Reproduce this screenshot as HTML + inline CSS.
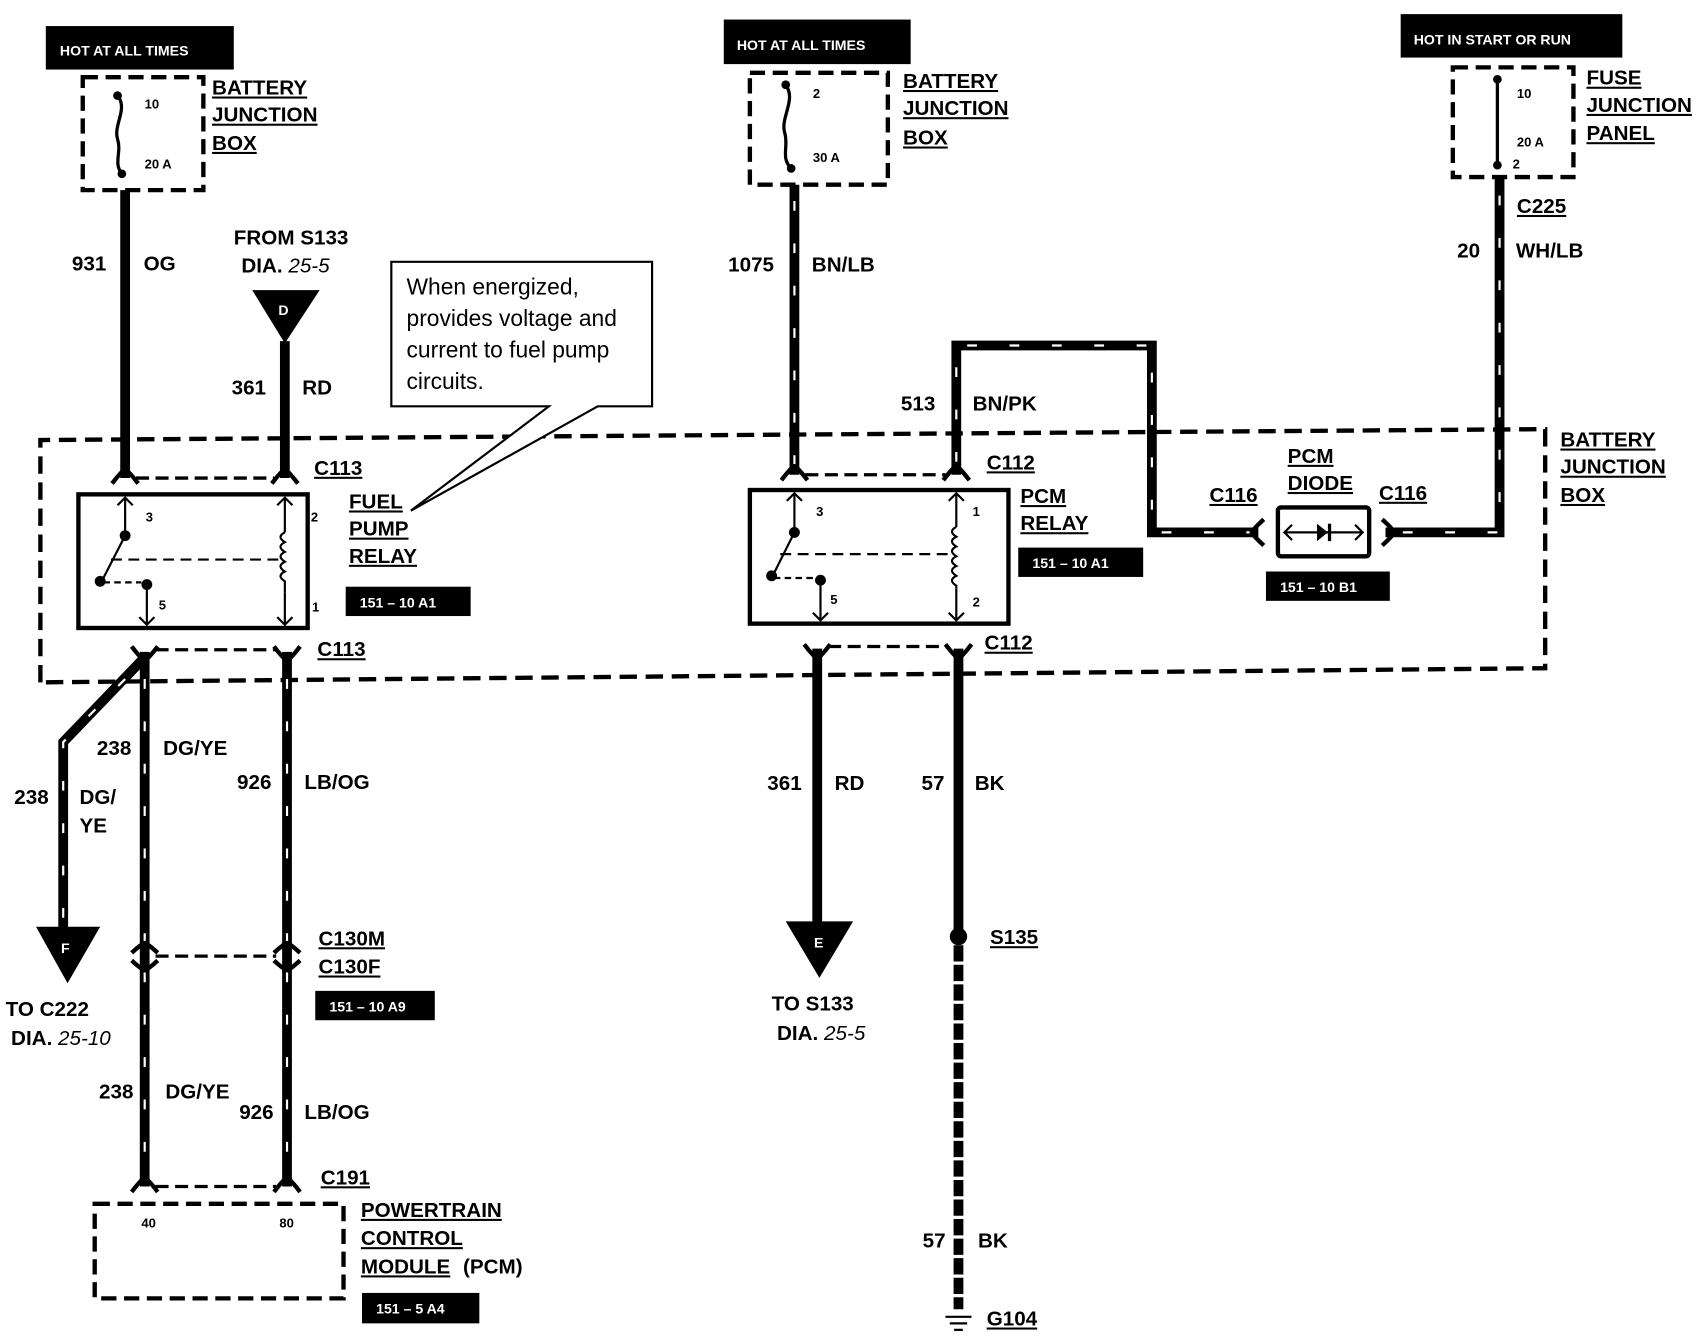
<!DOCTYPE html>
<html><head><meta charset="utf-8"><style>
html,body{margin:0;padding:0;background:#fff;}
svg{display:block;}
text{font-family:"Liberation Sans",Arial,sans-serif;fill:#000;}
.b{font-weight:bold;font-size:19px;}
.w{fill:#fff;font-size:13px;font-weight:bold;}
.s{font-size:12px;font-weight:bold;}
</style></head><body>
<svg width="1704" height="1344" viewBox="0 0 1568 1237" xmlns="http://www.w3.org/2000/svg">
<rect width="1568" height="1237" fill="#fff"/>
<g fill="none" stroke="#000">
<path d="M37,628 L37,405 L1422,395 L1422,615 L37,628" stroke-width="4" stroke-dasharray="16 8"/>
<rect x="76" y="71" width="111" height="104" stroke-width="4" stroke-dasharray="14 7"/>
<rect x="690" y="67" width="127" height="103" stroke-width="4" stroke-dasharray="14 7"/>
<rect x="1337" y="62" width="111" height="101" stroke-width="4" stroke-dasharray="14 7"/>
<rect x="87" y="1108" width="229" height="87" stroke-width="4" stroke-dasharray="14 7"/>
<path d="M108,88 C118,100 104,115 108,128 C112,140 104,150 112,160" stroke-width="3"/>
<path d="M723,78 C733,92 718,108 722,122 C726,135 718,145 728,155" stroke-width="3"/>
<path d="M1378,75 L1378,150" stroke-width="3"/>
<path d="M115,175 V440" stroke-width="9"/>
<path d="M262,314 V440" stroke-width="9"/>
<path d="M752,597 V850" stroke-width="9"/>
<path d="M882,597 V862" stroke-width="9"/>
<path d="M882,870 V1205" stroke-width="9" stroke-dasharray="15 3"/>
<g stroke-width="9" stroke-linejoin="miter">
<path d="M731,170 V437"/>
<path d="M880,437 V318 H1060 V490 H1158"/>
<path d="M1380,163 V490 H1275"/>
<path d="M133,600 V1092"/>
<path d="M264,600 V1092"/>
<path d="M133,605 L58,683 V855"/>
</g>
<g stroke="#fff" stroke-width="2" stroke-dasharray="9 30">
<path d="M731,185 V430"/>
<path d="M880,425 V318 H1060 V490 H1150"/>
<path d="M1380,180 V490 H1285"/>
<path d="M133,625 V870 M133,895 V1085"/>
<path d="M264,625 V870 M264,895 V1085"/>
<path d="M115,625 L58,683 V850"/>
</g>
<g stroke-width="4">
<path d="M103,445 Q113,432 115,432 Q117,432 127,445"/>
<path d="M250,445 Q260,432 262,432 Q264,432 274,445"/>
<path d="M719,442 Q729,429 731,429 Q733,429 743,442"/>
<path d="M868,442 Q878,429 880,429 Q882,429 892,442"/>
<path d="M121,1097 Q131,1084 133,1084 Q135,1084 145,1097"/>
<path d="M252,1097 Q262,1084 264,1084 Q266,1084 276,1097"/>
<path d="M121,877 Q131,868 133,868 Q135,868 145,877"/>
<path d="M252,877 Q262,868 264,868 Q266,868 276,877"/>
<path d="M121,595 Q131,608 133,608 Q135,608 145,595"/>
<path d="M252,595 Q262,608 264,608 Q266,608 276,595"/>
<path d="M740,593 Q750,606 752,606 Q754,606 764,593"/>
<path d="M870,593 Q880,606 882,606 Q884,606 894,593"/>
<path d="M121,884 Q131,893 133,893 Q135,893 145,884"/>
<path d="M252,884 Q262,893 264,893 Q266,893 276,884"/>
<path d="M1163,478 Q1152,488 1152,490 Q1152,492 1163,502"/>
<path d="M1272,478 Q1283,488 1283,490 Q1283,492 1272,502"/>
</g>
<g stroke-width="3" stroke-dasharray="12 6">
<path d="M125,440 H252"/><path d="M741,437 H870"/>
<path d="M143,598 H254"/><path d="M762,595 H872"/>
<path d="M143,880 H254"/><path d="M143,1092 H254"/>
</g>
<rect x="72" y="455" width="211" height="123" stroke-width="4"/>
<rect x="690" y="451" width="238" height="123" stroke-width="4"/>
<g stroke-width="2">
<path d="M115,458 V495 M108,465 L115,458 L122,465"/>
<path d="M115,493 L95,532"/>
<path d="M102,515 H258" stroke-dasharray="10 6"/>
<path d="M95,536 H130" stroke-dasharray="6 4"/>
<path d="M135,540 V575 M128,568 L135,575 L142,568"/>
<path d="M262,458 V490 M255,465 L262,458 L269,465 M262,545 V575 M255,568 L262,575 L269,568"/>
<path d="M262,490 q-8,4 0,9 q-8,4 0,9 q-8,4 0,9 q-8,4 0,9 q-8,4 0,9 V545"/>
<path d="M731,454 V490 M724,461 L731,454 L738,461"/>
<path d="M731,490 L712,528"/>
<path d="M718,510 H876" stroke-dasharray="10 6"/>
<path d="M712,532 H750" stroke-dasharray="6 4"/>
<path d="M755,536 V571 M748,564 L755,571 L762,564"/>
<path d="M880,454 V485 M873,461 L880,454 L887,461 M880,542 V571 M873,564 L880,571 L887,564"/>
<path d="M880,485 q-8,4 0,9 q-8,4 0,9 q-8,4 0,9 q-8,4 0,9 q-8,4 0,9 q-8,4 0,9 V542"/>
</g>
<rect x="1176" y="467" width="84" height="45" stroke-width="4" rx="3"/>
<path d="M1182,490 H1254 M1189,483 L1182,490 L1189,497 M1247,483 L1254,490 L1247,497" stroke-width="2"/>
<path d="M360,374 V241 H600 V374 H550 L378,470 L505,374 Z" fill="#fff" stroke-width="2"/>
<path d="M870,1212 H894 M874,1218 H890 M878,1224 H886" stroke-width="2"/>
</g>
<g fill="#000">
<circle cx="108" cy="88" r="4"/><circle cx="112" cy="160" r="4"/>
<circle cx="723" cy="78" r="4"/><circle cx="728" cy="155" r="4"/>
<circle cx="1378" cy="73" r="4"/><circle cx="1378" cy="152" r="4"/>
<circle cx="115" cy="493" r="5"/><circle cx="92" cy="535" r="5"/><circle cx="135" cy="538" r="5"/>
<circle cx="731" cy="490" r="5"/><circle cx="710" cy="530" r="5"/><circle cx="755" cy="534" r="5"/>
<circle cx="882" cy="862" r="8"/>
<polygon points="1212,482 1212,498 1222,490"/><rect x="1222" y="482" width="3" height="16"/>
<polygon points="232,267 294,267 262,316"/>
<polygon points="33,853 92,853 62,905"/>
<polygon points="723,848 785,848 754,900"/>
<rect x="42" y="24" width="173" height="40"/>
<rect x="666" y="18" width="172" height="41"/>
<rect x="1289" y="13" width="204" height="40"/>
<rect x="318" y="540" width="115" height="27"/>
<rect x="937" y="504" width="115" height="27"/>
<rect x="1165" y="526" width="114" height="27"/>
<rect x="290" y="912" width="110" height="27"/>
<rect x="333" y="1190" width="108" height="28"/>
</g>
<text class="w" x="55" y="51" font-size="14">HOT AT ALL TIMES</text>
<text class="w" x="678" y="46">HOT AT ALL TIMES</text>
<text class="w" x="1301" y="41">HOT IN START OR RUN</text>
<text class="w" x="331" y="559">151 – 10 A1</text>
<text class="w" x="950" y="523">151 – 10 A1</text>
<text class="w" x="1178" y="545">151 – 10 B1</text>
<text class="w" x="303" y="931">151 – 10 A9</text>
<text class="w" x="346" y="1209">151 – 5 A4</text>
<text class="w" x="256" y="290" font-size="16">D</text>
<text class="w" x="56" y="877" font-size="16">F</text>
<text class="w" x="749" y="872" font-size="16">E</text>
<g class="s"><text class="s" x="133" y="100">10</text><text class="s" x="133" y="155">20 A</text>
<text class="s" x="748" y="90">2</text><text class="s" x="748" y="149">30 A</text>
<text class="s" x="1396" y="90">10</text><text class="s" x="1396" y="135">20 A</text><text class="s" x="1392" y="155">2</text>
<text class="s" x="134" y="480">3</text><text class="s" x="286" y="480">2</text><text class="s" x="146" y="561">5</text><text class="s" x="287" y="563">1</text>
<text class="s" x="751" y="475">3</text><text class="s" x="895" y="475">1</text><text class="s" x="764" y="556">5</text><text class="s" x="895" y="558">2</text>
<text class="s" x="130" y="1130">40</text><text class="s" x="257" y="1130">80</text></g>
<g class="b" text-decoration="underline">
<text class="b" x="195" y="87">BATTERY</text><text class="b" x="195" y="112">JUNCTION</text><text class="b" x="195" y="138">BOX</text>
<text class="b" x="831" y="81">BATTERY</text><text class="b" x="831" y="106">JUNCTION</text><text class="b" x="831" y="133">BOX</text>
<text class="b" x="1460" y="78">FUSE</text><text class="b" x="1460" y="103">JUNCTION</text><text class="b" x="1460" y="129">PANEL</text>
<text class="b" x="1436" y="411">BATTERY</text><text class="b" x="1436" y="436">JUNCTION</text><text class="b" x="1436" y="462">BOX</text>
<text class="b" x="321" y="468">FUEL</text><text class="b" x="321" y="493">PUMP</text><text class="b" x="321" y="518">RELAY</text>
<text class="b" x="939" y="463">PCM</text><text class="b" x="939" y="488">RELAY</text>
<text class="b" x="1185" y="426">PCM</text><text class="b" x="1185" y="451">DIODE</text>
<text class="b" x="289" y="437">C113</text><text class="b" x="292" y="604">C113</text>
<text class="b" x="908" y="432">C112</text><text class="b" x="906" y="598">C112</text>
<text class="b" x="1113" y="462">C116</text><text class="b" x="1269" y="460">C116</text>
<text class="b" x="1396" y="196">C225</text>
<text class="b" x="293" y="870">C130M</text><text class="b" x="293" y="896">C130F</text>
<text class="b" x="295" y="1090">C191</text>
<text class="b" x="911" y="869">S135</text><text class="b" x="908" y="1220">G104</text>
<text class="b" x="332" y="1120">POWERTRAIN</text><text class="b" x="332" y="1146">CONTROL</text><text class="b" x="332" y="1172">MODULE</text>
</g>
<text class="b" x="426" y="1172">(PCM)</text>
<g>
<text class="b" x="66" y="249">931</text><text class="b" x="132" y="249">OG</text>
<text class="b" x="215" y="225">FROM S133</text><text class="b" x="222" y="251">DIA. <tspan font-weight="normal" font-style="italic">25-5</tspan></text>
<text class="b" x="213" y="363">361</text><text class="b" x="278" y="363">RD</text>
<text class="b" x="13" y="740">238</text><text class="b" x="73" y="740">DG/</text><text class="b" x="73" y="766">YE</text>
<text class="b" x="5" y="935">TO C222</text><text class="b" x="10" y="962">DIA. <tspan font-weight="normal" font-style="italic">25-10</tspan></text>
<text class="b" x="89" y="695">238</text><text class="b" x="150" y="695">DG/YE</text>
<text class="b" x="218" y="726">926</text><text class="b" x="280" y="726">LB/OG</text>
<text class="b" x="91" y="1011">238</text><text class="b" x="152" y="1011">DG/YE</text>
<text class="b" x="220" y="1030">926</text><text class="b" x="280" y="1030">LB/OG</text>
<text class="b" x="670" y="250">1075</text><text class="b" x="747" y="250">BN/LB</text>
<text class="b" x="829" y="378">513</text><text class="b" x="895" y="378">BN/PK</text>
<text class="b" x="706" y="727">361</text><text class="b" x="768" y="727">RD</text>
<text class="b" x="848" y="727">57</text><text class="b" x="897" y="727">BK</text>
<text class="b" x="710" y="930">TO S133</text><text class="b" x="715" y="957">DIA. <tspan font-weight="normal" font-style="italic">25-5</tspan></text>
<text class="b" x="849" y="1148">57</text><text class="b" x="900" y="1148">BK</text>
<text class="b" x="1341" y="237">20</text><text class="b" x="1395" y="237">WH/LB</text>
</g>
<g font-size="21">
<text x="374" y="271">When energized,</text>
<text x="374" y="300">provides voltage and</text>
<text x="374" y="329">current to fuel pump</text>
<text x="374" y="358">circuits.</text>
</g>
</svg>
</body></html>
